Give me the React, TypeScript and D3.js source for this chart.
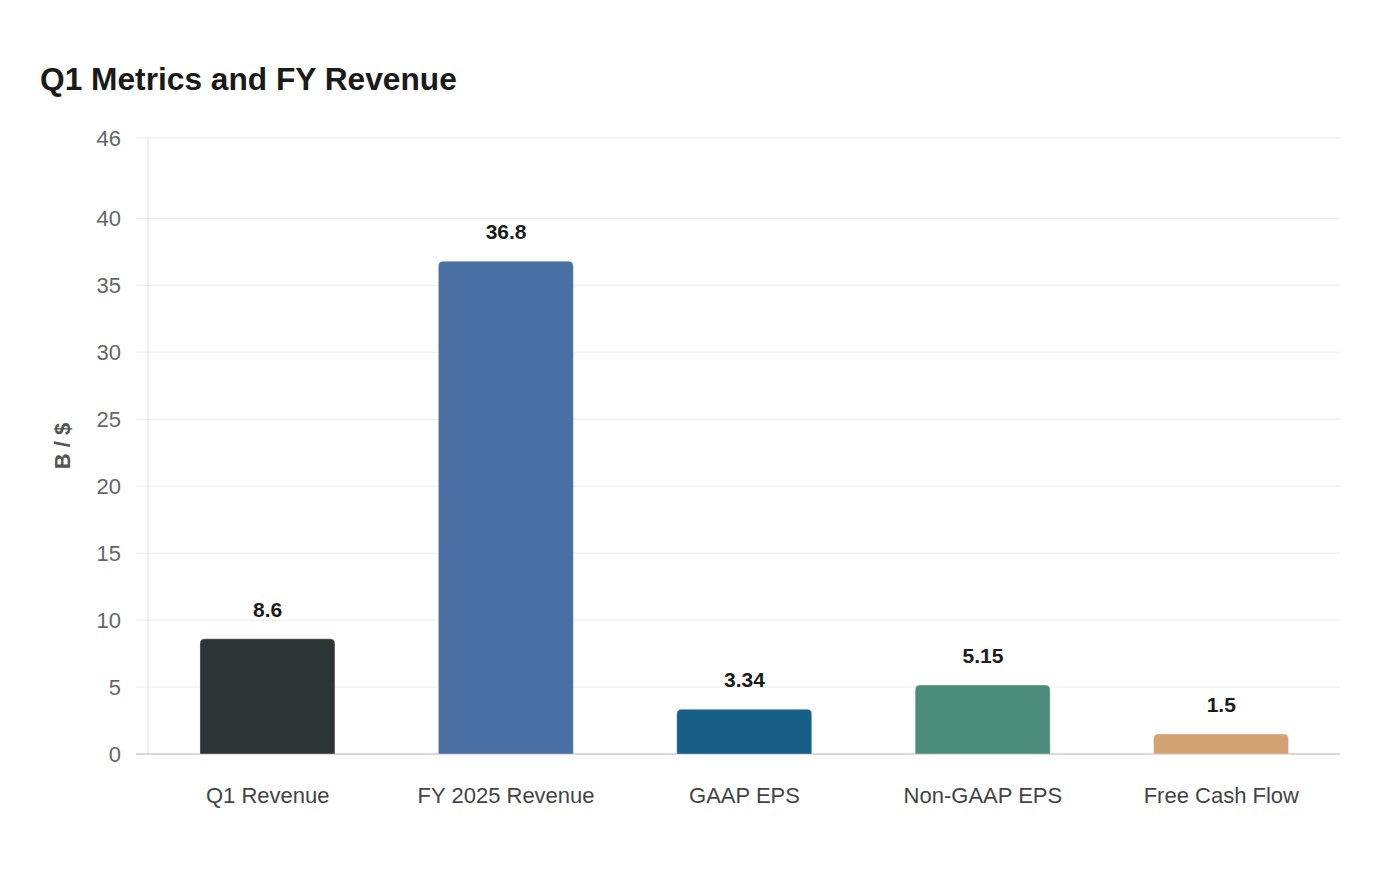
import React from "react";
import * as d3 from "d3";

const categories = ["Q1 Revenue", "FY 2025 Revenue", "GAAP EPS", "Non-GAAP EPS", "Free Cash Flow"];
const values = [8.6, 36.8, 3.34, 5.15, 1.5];
const valueLabels = ["8.6", "36.8", "3.34", "5.15", "1.5"];
const colors = ["#2d3436", "#4a6fa5", "#175f87", "#4c8c7a", "#d4a373"];
const yTicks = [0, 5, 10, 15, 20, 25, 30, 35, 40, 46];

const W = 1400, H = 880;
const M = { left: 148, right: 60, top: 138, bottom: 126 };
const FONT = "'Liberation Sans', Arial, sans-serif";

function topRoundedRect(x: number, y: number, w: number, h: number, r: number) {
  const rr = Math.min(r, h, w / 2);
  return `M${x},${y + h}L${x},${y + rr}Q${x},${y} ${x + rr},${y}L${x + w - rr},${y}Q${x + w},${y} ${x + w},${y + rr}L${x + w},${y + h}Z`;
}

export default function App() {
  const x = d3.scaleBand().domain(categories).range([M.left, W - M.right]).paddingInner(0.44).paddingOuter(0.22);
  const y = d3.scaleLinear().domain([0, 46]).range([H - M.bottom, M.top]);
  const x0 = M.left, x1 = W - M.right;
  return (
    <svg width={W} height={H} style={{ position: "absolute", left: 0, top: 0, background: "#fff" }} fontFamily={FONT}>
      <text x={40} y={90} fontSize={31.7} fontWeight="bold" fill="#1a1a1a">Q1 Metrics and FY Revenue</text>
      {yTicks.map((t) => (
        <g key={t}>
          <line x1={x0 - 12} x2={x1} y1={y(t)} y2={y(t)} stroke={t === 0 ? "#cccccc" : "#ebebeb"} strokeWidth={t === 0 ? 1.5 : 1} />
          <text x={x0 - 27} y={y(t)} dy="0.35em" textAnchor="end" fontSize={22} fill="#666">{t}</text>
        </g>
      ))}
      <line x1={x0} x2={x0} y1={y(46)} y2={y(0)} stroke="#e0e0e0" strokeWidth={1} />
      <text transform={`translate(70,${(y(0) + y(46)) / 2}) rotate(-90)`} textAnchor="middle" fontSize={22} fontWeight="bold" fill="#555">B / $</text>
      {categories.map((c, i) => {
        const bx = x(c)!;
        const bw = x.bandwidth();
        const by = y(values[i]);
        const bh = y(0) - by;
        return (
          <g key={c}>
            <path d={topRoundedRect(bx - 0.5, by, bw + 1.5, bh, 5)} fill={colors[i]} stroke="rgba(255,255,255,0.35)" strokeWidth={1} />
            <text x={bx + bw / 2 + 0.5} y={by - 22} textAnchor="middle" fontSize={21} fontWeight="bold" fill="#1a1a1a">{valueLabels[i]}</text>
            <text x={bx + bw / 2 + 0.5} y={y(0) + 49} textAnchor="middle" fontSize={22} fill="#444">{c}</text>
          </g>
        );
      })}
    </svg>
  );
}
